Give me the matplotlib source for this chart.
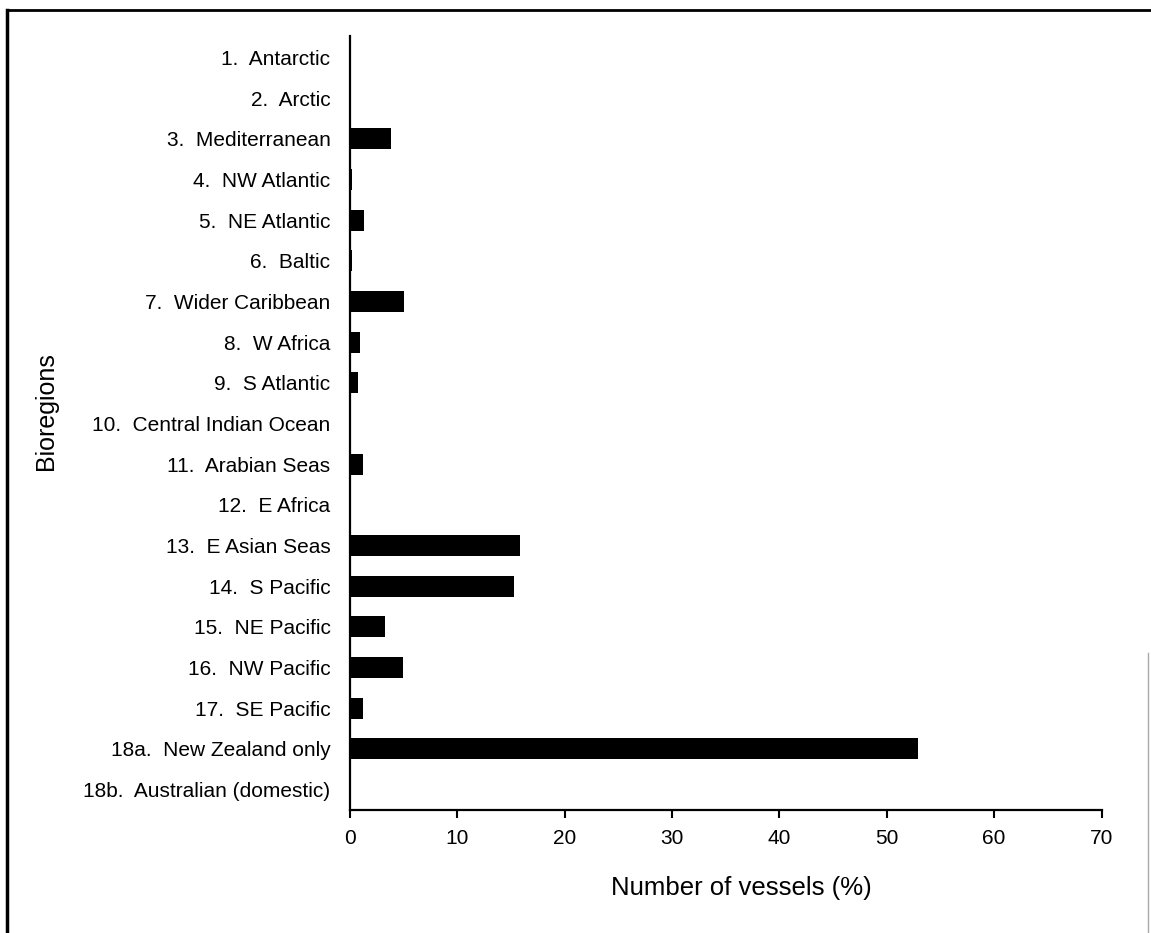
import matplotlib.pyplot as plt
from matplotlib.lines import Line2D

plt.rcParams['font.family'] = ['Liberation Sans', 'DejaVu Sans']

regions = ['1.  Antarctic', '2.  Arctic', '3.  Mediterranean', '4.  NW Atlantic',
           '5.  NE Atlantic', '6.  Baltic', '7.  Wider Caribbean', '8.  W Africa',
           '9.  S Atlantic', '10.  Central Indian Ocean', '11.  Arabian Seas',
           '12.  E Africa', '13.  E Asian Seas', '14.  S Pacific', '15.  NE Pacific',
           '16.  NW Pacific', '17.  SE Pacific', '18a.  New Zealand only',
           '18b.  Australian (domestic)']
vessels_pct = [0, 0, 3.8, 0.15, 1.3, 0.15, 5.0, 0.9, 0.75, 0.1, 1.2,
               0, 15.8, 15.3, 3.3, 4.9, 1.2, 52.9, 0]

fig = plt.figure(figsize=(11.51, 9.33), dpi=100)
ax = fig.add_axes([0.304, 0.132, 0.653, 0.829])

ax.barh(range(len(regions)), vessels_pct, height=0.52, color='black')

ax.set_xlim(0, 70)
ax.set_ylim(18.5, -0.52)
ax.set_xticks(range(0, 71, 10))
ax.set_yticks(range(len(regions)))
ax.set_yticklabels(regions, fontsize=15)
ax.tick_params(axis='y', length=0, pad=14)
ax.tick_params(axis='x', length=6, width=1.5, labelsize=15, pad=8)

for side in ['top', 'right']:
    ax.spines[side].set_visible(False)
for side in ['left', 'bottom']:
    ax.spines[side].set_linewidth(1.6)

ax.set_xlabel('Number of vessels (%)', fontsize=18.5)
ax.xaxis.set_label_coords(0.521, -0.085)
fig.text(0.04, 0.559, 'Bioregions', rotation=90, fontsize=18, va='center', ha='center')

# scanned-page frame
fig.add_artist(Line2D([0.006, 1.0], [0.989, 0.989], transform=fig.transFigure,
                      color='black', linewidth=2))
fig.add_artist(Line2D([0.006, 0.006], [0.0, 0.989], transform=fig.transFigure,
                      color='black', linewidth=2.5))
fig.add_artist(Line2D([0.997, 0.997], [0.0, 0.30], transform=fig.transFigure,
                      color='#aaaaaa', linewidth=1))

fig.savefig('out.png', dpi=100)
